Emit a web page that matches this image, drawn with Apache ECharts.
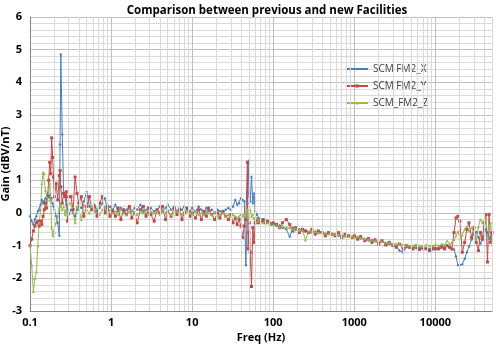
<!DOCTYPE html>
<html>
<head>
<meta charset="utf-8">
<script src="https://cdn.jsdelivr.net/npm/echarts@6/dist/echarts.min.js"></script>
<style>
html,body{margin:0;padding:0;background:#fff;}
#chart{width:496px;height:344px;}
</style>
</head>
<body>
<div id="chart"></div>
<script>
// frequencies (Hz)
var freq = [
  0.10,0.105,0.11,0.115,0.12,0.125,0.13,0.135,0.14,0.145,0.15,0.155,0.16,0.165,0.17,0.175,0.18,0.185,0.19,0.195,0.20,
  0.21,0.22,0.23,0.235,0.24,0.25,0.26,0.27,0.28,0.29,0.30,
  0.32,0.34,0.36,0.38,0.4,0.43,0.46,0.5,0.54,0.58,0.62,0.67,0.72,0.78,0.84,0.9,0.97,
  1.05,1.13,1.22,1.32,1.43,1.55,1.68,1.8,1.95,2.1,2.3,2.5,2.7,2.9,3.1,3.4,3.7,4.0,4.3,4.7,5.0,5.5,6.0,6.5,7.0,7.5,8.0,8.7,9.4,
  10,11,12,13,14,15,16,17.5,19,20.5,22,24,26,28,30,32,34,36,38,40,
  42,44,46,48,49,50,51,52,54,56,58,60,63,66,70,75,80,86,92,100,
  110,120,130,145,160,175,190,210,230,250,275,300,330,360,400,440,480,530,580,640,700,770,850,930,1000,
  1100,1200,1350,1500,1650,1800,2000,2200,2450,2700,3000,3300,3600,4000,4400,4800,5300,5800,6400,7000,7700,8500,9300,10000,
  11000,12000,13000,14000,15000,16000,17000,18000,19000,20000,21500,23000,24500,26000,28000,30000,32000,34000,36000,38000,40000,42000,44000,46000,48000,50000
];

var gainX = [
  -0.1,-0.25,-0.35,-0.2,-0.1,0.05,0.1,0.25,0.4,0.3,0.35,0.45,0.4,0.6,0.5,0.55,0.4,0.45,0.3,0.2,0.1,
  -0.1,-0.3,-0.7,2.1,4.85,2.4,0.6,0.5,0.25,0.1,-0.05,
  0.1,0.0,-0.1,0.1,0.2,0.15,0.35,0.65,0.2,0.1,0.25,0.05,0.15,0.3,0.45,0.1,0.2,
  0.1,0.25,0.05,0.15,0.0,0.1,0.2,0.05,0.15,0.1,0.25,0.05,0.1,0.0,0.15,0.05,0.1,0.2,0.05,0.15,0.25,0.1,0.2,0.05,0.15,0.1,0.2,0.1,0.05,
  0.15,0.05,0.2,0.1,0.0,0.15,0.05,0.1,0.0,0.1,0.05,0.0,0.1,0.15,0.1,0.2,0.4,0.25,0.3,0.45,
  0.4,0.35,-1.6,0.3,0.6,1.6,0.5,0.35,1.1,0.3,0.6,0.05,-0.05,-0.15,-0.2,-0.25,-0.2,-0.3,-0.3,-0.35,
  -0.4,-0.38,-0.45,-0.5,-0.73,-0.45,-0.52,-0.5,-0.55,-0.53,-0.58,-0.6,-0.57,-0.62,-0.6,-0.65,-0.63,-0.67,-0.65,-0.7,-0.68,-0.72,-0.7,-0.75,-0.72,
  -0.74,-0.78,-0.8,-0.84,-0.83,-0.87,-0.9,-0.88,-0.93,-0.95,-0.97,-1.0,-1.15,-1.2,-1.05,-1.02,-1.05,-1.08,-1.05,-1.1,-1.08,-1.1,-1.12,-1.08,
  -1.05,-1.0,-1.05,-1.0,-1.05,-1.1,-1.12,-1.33,-1.6,-1.6,-1.57,-1.4,-1.2,-1.03,-0.82,-0.62,-0.58,-0.75,-0.93,-0.82,-0.7,-0.5,-0.6,-0.75,-0.82,-0.7
];

var gainY = [
  -1.0,-0.8,-0.55,-0.4,-0.3,-0.25,-0.4,-0.25,-0.35,-0.1,0.1,0.3,0.15,0.5,1.0,1.55,1.2,2.3,1.7,1.1,0.5,
  0.9,0.4,1.15,1.3,0.8,0.3,0.6,0.5,0.65,-0.25,0.5,
  0.5,0.1,1.1,0.6,0.3,0.5,-0.1,0.2,0.5,0.1,0.2,-0.1,0.3,0.5,0.0,0.2,-0.1,
  0.05,-0.1,0.15,-0.2,0.1,-0.05,0.2,-0.15,0.0,-0.3,0.1,0.2,-0.1,0.15,-0.05,-0.25,0.1,0.0,0.2,-0.2,0.05,-0.1,0.15,-0.05,0.1,-0.2,0.0,0.15,-0.1,
  0.0,-0.15,0.1,-0.2,0.05,-0.1,0.15,-0.05,-0.2,0.0,-0.15,0.05,-0.1,-0.2,-0.05,-0.3,-0.15,-0.35,-0.2,-0.4,
  -0.75,-0.4,-0.2,1.55,-1.1,-0.6,-0.3,-1.2,-2.25,-0.45,-0.9,-0.3,-0.2,-0.3,-0.25,-0.2,-0.3,-0.25,-0.35,-0.3,
  -0.35,-0.45,-0.3,-0.2,-0.35,-0.55,-0.45,-0.6,-0.5,-0.55,-0.6,-0.5,-0.65,-0.55,-0.6,-0.7,-0.6,-0.65,-0.7,-0.6,-0.75,-0.65,-0.7,-0.75,-0.7,
  -0.8,-0.72,-0.85,-0.78,-0.9,-0.82,-0.95,-0.85,-0.98,-0.9,-1.0,-1.05,-0.95,-1.1,-1.0,-1.05,-1.1,-1.0,-1.12,-1.05,-1.1,-1.15,-1.05,-1.1,
  -1.1,-1.05,-1.1,-1.0,-1.05,-1.1,-0.6,-0.15,-0.1,-0.25,-1.2,-0.9,-0.5,-0.3,-0.75,-0.45,-0.9,-1.15,-0.6,-0.8,-0.3,-0.05,-1.5,-0.05,-0.9,-0.6
];

var gainZ = [
  -1.0,-1.6,-2.4,-2.0,-1.8,-1.0,-0.3,0.1,0.9,1.25,1.2,0.7,0.5,0.4,0.6,0.9,0.4,-0.45,-0.65,-0.7,-0.6,
  -0.3,-0.1,0.15,0.2,0.3,0.1,0.2,-0.05,0.1,-0.05,0.3,
  0.3,0.0,-0.3,0.2,0.1,-0.2,0.25,0.1,0.0,0.2,0.05,0.15,-0.05,0.1,0.2,0.0,0.1,
  0.0,0.05,-0.05,0.1,0.0,-0.05,0.05,0.1,0.0,-0.05,0.05,0.0,0.1,-0.05,0.05,0.0,0.05,-0.05,0.1,0.0,0.05,-0.05,0.0,0.1,0.05,-0.05,0.0,0.05,0.0,
  0.0,0.05,-0.05,0.0,-0.05,0.05,0.0,-0.05,0.0,-0.1,-0.05,0.0,-0.1,-0.05,-0.1,-0.05,-0.1,-0.15,-0.1,-0.05,
  -0.1,-0.05,0.0,0.1,-0.15,-0.25,0.0,0.1,-0.1,-0.05,-0.15,-0.2,-0.15,-0.25,-0.2,-0.3,-0.25,-0.3,-0.35,-0.35,
  -0.37,-0.42,-0.4,-0.45,-0.45,-0.5,-0.48,-0.53,-0.52,-0.83,-0.55,-0.58,-0.57,-0.6,-0.6,-0.62,-0.64,-0.65,-0.66,-0.68,-0.68,-0.7,-0.72,-0.71,-0.74,
  -0.73,-0.76,-0.78,-0.8,-0.83,-0.84,-0.86,-0.88,-0.9,-0.92,-0.94,-0.95,-0.96,-0.97,-0.98,-1.0,-1.0,-0.98,-1.0,-1.02,-0.98,-1.0,-1.0,-0.97,
  -1.0,-0.95,-0.98,-0.85,-0.95,-0.9,-0.82,-0.7,-0.57,-0.75,-0.67,-0.5,-0.42,-0.55,-0.46,-0.6,-0.82,-0.42,-0.2,-0.3,-0.25,-0.15,-0.72,-0.4,-0.3,-0.9
];

// minor grid positions on the log axis (2..9 of each decade)
var minorFreq = [
  0.2,0.3,0.4,0.5,0.6,0.7,0.8,0.9,
  2,3,4,5,6,7,8,9,
  20,30,40,50,60,70,80,90,
  200,300,400,500,600,700,800,900,
  2000,3000,4000,5000,6000,7000,8000,9000,
  20000,30000,40000,50000
];

var seriesNames = ['SCM FM2_X','SCM FM2_Y','SCM_FM2_Z'];
var seriesColors = ['#4a7ebb','#be4b48','#98b954'];
var seriesSymbols = ['diamond','rect','triangle'];
var seriesData = [gainX, gainY, gainZ];

function pairs(vals){
  var out = [];
  for(var i=0;i<freq.length;i++){
    out.push([freq[i], vals[i]]);
  }
  return out;
}

var chart = echarts.init(document.getElementById('chart'));
var fontFam = '"Open Sans", "Liberation Sans", sans-serif';

var series = [];
//次网格线
series.push({
  name: 'minor',
  type: 'line',
  data: [],
  silent: true,
  z: 1,
  markLine: {
    silent: true,
    animation: false,
    symbol: ['none','none'],
    label: {show: false},
    lineStyle: {color: '#d9d9d9', type: 'solid', width: 1},
    data: minorFreq.map(function(v){ return {xAxis: v}; })
  }
});
for(var s=0;s<3;s++){
  series.push({
    name: seriesNames[s],
    type: 'line',
    z: 3,
    data: pairs(seriesData[s]),
    symbol: seriesSymbols[s],
    symbolSize: 3,
    showAllSymbol: true,
    animation: false,
    itemStyle: {color: seriesColors[s]},
    lineStyle: {color: seriesColors[s], width: 1}
  });
}

var option = {
  backgroundColor: '#ffffff',
  animation: false,
  title: {
    text: 'Comparison between previous and new Facilities',
    left: 262,
    textAlign: 'center',
    top: 0,
    textStyle: {fontFamily: fontFam, fontSize: 11.5, fontWeight: 'bold', color: '#000'}
  },
  legend: {
    data: seriesNames,
    orient: 'vertical',
    left: 340,
    top: 59,
    itemWidth: 22,
    itemHeight: 4,
    itemGap: 7,
    textStyle: {fontFamily: fontFam, fontSize: 10, color: '#404040'}
  },
  grid: {left: 30, right: 4, top: 17, bottom: 33, outerBoundsMode: 'none'},
  xAxis: {
    type: 'log',
    logBase: 10,
    min: 0.1,
    max: 50000,
    splitNumber: 6,
    name: 'Freq (Hz)',
    nameLocation: 'middle',
    nameGap: 21,
    nameMoveOverlap: false,
    nameTextStyle: {fontFamily: fontFam, fontSize: 11, fontWeight: 'bold', color: '#000'},
    axisLine: {onZero: false, lineStyle: {color: '#868686'}},
    axisTick: {show: false},
    axisLabel: {
      fontFamily: fontFam, fontSize: 11, fontWeight: 'bold', color: '#000', margin: 6,
      showMaxLabel: false,
      formatter: function(v){ return String(v); }
    },
    splitLine: {show: true, lineStyle: {color: '#bfbfbf'}}
  },
  yAxis: {
    type: 'value',
    min: -3,
    max: 6,
    interval: 1,
    name: 'Gain (dBV/nT)',
    nameLocation: 'middle',
    nameRotate: 90,
    nameGap: 19,
    nameMoveOverlap: false,
    nameTextStyle: {fontFamily: fontFam, fontSize: 11, fontWeight: 'bold', color: '#000'},
    axisLine: {show: true, onZero: false, lineStyle: {color: '#868686'}},
    axisTick: {show: false},
    axisLabel: {fontFamily: fontFam, fontSize: 11, fontWeight: 'bold', color: '#000', margin: 8},
    splitLine: {show: true, lineStyle: {color: '#bfbfbf'}},
    minorTick: {show: false, splitNumber: 5},
    minorSplitLine: {show: true, lineStyle: {color: '#d9d9d9'}}
  },
  series: series
};
chart.setOption(option);
</script>
</body>
</html>
